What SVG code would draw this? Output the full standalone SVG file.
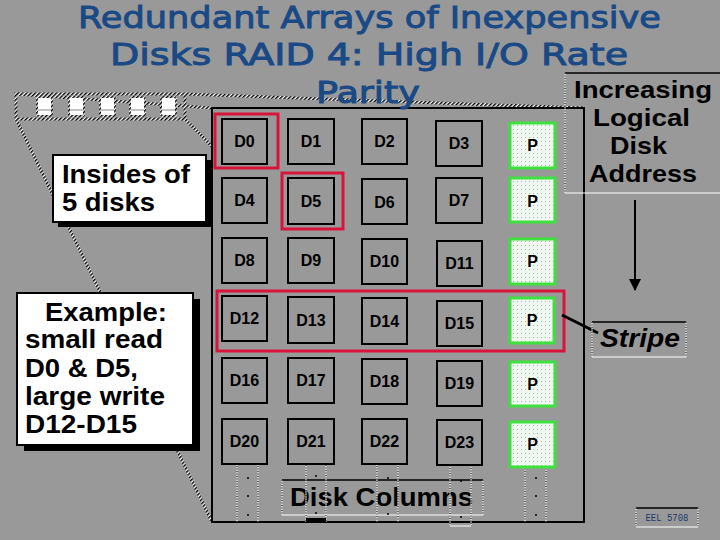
<svg xmlns="http://www.w3.org/2000/svg" width="720" height="540" viewBox="0 0 720 540">
<style>
.cell{fill:#999;stroke:#000;stroke-width:2}
.par{fill:url(#dots);stroke:#3ee03e;stroke-width:3}
.red{fill:none;stroke:#d8143c;stroke-width:3}
.lbl{font-family:"Liberation Sans",Arial,sans-serif;font-weight:bold;font-size:16px;text-anchor:middle;fill:#000}
.big{font-family:"Liberation Sans",Arial,sans-serif;font-weight:bold;font-size:26px;fill:#000}
.addr{font-size:24px}
.title{font-family:"DejaVu Sans","Liberation Sans",sans-serif;font-size:31px;fill:#1a4a86;stroke:#1a4a86;stroke-width:1;text-anchor:middle}
.hat{stroke:url(#hatch);stroke-width:3;fill:none}
.wl{stroke:#fff;stroke-width:1;fill:none}
.dl{stroke:#000;stroke-width:1;stroke-dasharray:1 1.5;fill:none}
.bl{stroke:#000;stroke-width:1.5;fill:none}
.dot{fill:#000}
</style>
<defs>
<pattern id="dots" width="4" height="4" patternUnits="userSpaceOnUse">
<rect width="4" height="4" fill="#f3f7f3"/><rect x="1" y="1" width="1" height="1" fill="#8c8"/>
</pattern>
<pattern id="hatch" width="3" height="3" patternUnits="userSpaceOnUse" patternTransform="rotate(45)">
<rect width="3" height="3" fill="#fff"/><rect width="1.5" height="3" fill="#000"/>
</pattern>
<marker id="arr" markerWidth="12" markerHeight="12" refX="11" refY="6" orient="auto" markerUnits="userSpaceOnUse" viewBox="0 0 12 12">
<path d="M0,0 L12,6 L0,12 Z" fill="#000"/>
</marker>
</defs>
<rect width="720" height="540" fill="#999"/>

<g id="connectors">
<line class="hat" x1="16" y1="94" x2="212" y2="108"/>
<line class="hat" x1="185" y1="94" x2="584" y2="108"/>
<line class="hat" x1="16" y1="119" x2="212" y2="522"/>
<line class="hat" x1="185" y1="119" x2="584" y2="522"/>
</g>

<g id="small-disks">
<rect class="hat" x="16" y="94" width="169" height="25"/>
<g fill="#fff" stroke="url(#hatch)" stroke-width="2">
<rect x="37" y="97" width="15" height="19" rx="2"/>
<rect x="69" y="97" width="15" height="19" rx="2"/>
<rect x="100" y="97" width="15" height="19" rx="2"/>
<rect x="130" y="97" width="15" height="19" rx="2"/>
<rect x="161" y="97" width="15" height="19" rx="2"/>
</g>
<g stroke="#888" stroke-width="1">
<line x1="38" y1="110" x2="51" y2="110"/><line x1="70" y1="110" x2="83" y2="110"/><line x1="101" y1="110" x2="114" y2="110"/><line x1="131" y1="110" x2="144" y2="110"/><line x1="162" y1="110" x2="175" y2="110"/>
</g>
</g>

<g id="frame">
<rect x="212" y="108" width="372" height="414" fill="#999" stroke="#000" stroke-width="2"/>
</g>

<g id="disk-columns-label">
<line class="bl" x1="282" y1="480" x2="483" y2="480"/>
<line class="wl" x1="282" y1="480" x2="282" y2="515"/><line class="dl" x1="282" y1="480" x2="282" y2="515"/>
<line class="wl" x1="483" y1="480" x2="483" y2="515"/><line class="dl" x1="483" y1="480" x2="483" y2="515"/>
<line class="wl" x1="282" y1="515" x2="483" y2="515" stroke-width="1.5"/>
<text class="big" x="290" y="506" textLength="183" lengthAdjust="spacingAndGlyphs">Disk Columns</text>
</g>

<g id="column-ext">
<g>
<line class="wl" x1="237" y1="461" x2="237" y2="522"/><line class="dl" x1="237" y1="461" x2="237" y2="522"/>
<line class="wl" x1="258" y1="461" x2="258" y2="522"/><line class="dl" x1="258" y1="461" x2="258" y2="522"/>
<line class="bl" x1="237" y1="461" x2="258" y2="461"/>
<circle class="dot" cx="248" cy="478" r="1"/><circle class="dot" cx="248" cy="496" r="1"/><circle class="dot" cx="248" cy="515" r="1"/>
</g>
<g>
<line class="wl" x1="306" y1="460" x2="306" y2="522"/><line class="dl" x1="306" y1="460" x2="306" y2="522"/>
<line class="wl" x1="326" y1="460" x2="326" y2="522"/><line class="dl" x1="326" y1="460" x2="326" y2="522"/>
<line class="bl" x1="306" y1="460" x2="326" y2="460"/>
<rect x="306" y="518" width="20" height="4" fill="#000"/>
<circle class="dot" cx="316" cy="476" r="1"/><circle class="dot" cx="316" cy="513" r="1"/>
</g>
<g>
<line class="wl" x1="377" y1="461" x2="377" y2="522"/><line class="dl" x1="377" y1="461" x2="377" y2="522"/>
<line class="wl" x1="398" y1="461" x2="398" y2="522"/><line class="dl" x1="398" y1="461" x2="398" y2="522"/>
<line class="bl" x1="377" y1="461" x2="398" y2="461"/>
<circle class="dot" cx="388" cy="478" r="1"/><circle class="dot" cx="388" cy="514" r="1"/>
</g>
<g>
<line class="wl" x1="450" y1="463" x2="450" y2="526"/><line class="dl" x1="450" y1="463" x2="450" y2="526"/>
<line class="wl" x1="471" y1="463" x2="471" y2="526"/><line class="dl" x1="471" y1="463" x2="471" y2="526"/>
<line class="wl" x1="450" y1="463" x2="471" y2="463" stroke-width="1.5"/>
<line class="wl" x1="450" y1="526" x2="471" y2="526" stroke-width="1.5"/>
<circle class="dot" cx="461" cy="481" r="1"/><circle class="dot" cx="461" cy="517" r="1"/>
</g>
<g>
<line class="wl" x1="525" y1="461" x2="525" y2="522"/><line class="dl" x1="525" y1="461" x2="525" y2="522"/>
<line class="wl" x1="546" y1="461" x2="546" y2="522"/><line class="dl" x1="546" y1="461" x2="546" y2="522"/>
<line class="bl" x1="525" y1="461" x2="546" y2="461"/>
<circle class="dot" cx="536" cy="478" r="1"/><circle class="dot" cx="536" cy="496" r="1"/><circle class="dot" cx="536" cy="515" r="1"/>
</g>
</g>

<g id="row1">
<g id="D0"><rect class="cell" x="222" y="119" width="45" height="45"/><text class="lbl" x="244.5" y="147">D0</text></g>
<g id="D1"><rect class="cell" x="288" y="119" width="46" height="45"/><text class="lbl" x="311" y="147">D1</text></g>
<g id="D2"><rect class="cell" x="362" y="119" width="45" height="45"/><text class="lbl" x="384.5" y="147">D2</text></g>
<g id="D3"><rect class="cell" x="436" y="121" width="46" height="45"/><text class="lbl" x="459" y="149">D3</text></g>
<g id="P0"><rect class="par" x="510" y="123" width="45" height="45"/><text class="lbl" x="532.5" y="151">P</text></g>
</g>
<g id="row2">
<g id="D4"><rect class="cell" x="222" y="178" width="45" height="45"/><text class="lbl" x="244.5" y="206">D4</text></g>
<g id="D5"><rect class="cell" x="288" y="178" width="46" height="46"/><text class="lbl" x="311" y="207">D5</text></g>
<g id="D6"><rect class="cell" x="362" y="179" width="45" height="45"/><text class="lbl" x="384.5" y="208">D6</text></g>
<g id="D7"><rect class="cell" x="436" y="178" width="46" height="45"/><text class="lbl" x="459" y="206">D7</text></g>
<g id="P1"><rect class="par" x="510" y="178" width="45" height="44"/><text class="lbl" x="532.5" y="207">P</text></g>
</g>
<g id="row3">
<g id="D8"><rect class="cell" x="222" y="238" width="45" height="45"/><text class="lbl" x="244.5" y="266">D8</text></g>
<g id="D9"><rect class="cell" x="288" y="238" width="46" height="45"/><text class="lbl" x="311" y="266">D9</text></g>
<g id="D10"><rect class="cell" x="362" y="239" width="45" height="45"/><text class="lbl" x="384.5" y="267">D10</text></g>
<g id="D11"><rect class="cell" x="437" y="241" width="45" height="45"/><text class="lbl" x="459.5" y="269">D11</text></g>
<g id="P2"><rect class="par" x="510" y="239" width="45" height="45"/><text class="lbl" x="532.5" y="267">P</text></g>
</g>
<g id="row4">
<g id="D12"><rect class="cell" x="222" y="296" width="45" height="45"/><text class="lbl" x="244.5" y="324">D12</text></g>
<g id="D13"><rect class="cell" x="288" y="297" width="46" height="46"/><text class="lbl" x="311" y="326">D13</text></g>
<g id="D14"><rect class="cell" x="362" y="298" width="45" height="46"/><text class="lbl" x="384.5" y="327">D14</text></g>
<g id="D15"><rect class="cell" x="437" y="301" width="45" height="45"/><text class="lbl" x="459.5" y="329">D15</text></g>
<g id="P3"><rect class="par" x="510" y="298" width="44" height="45"/><text class="lbl" x="532" y="326">P</text></g>
</g>
<g id="row5">
<g id="D16"><rect class="cell" x="222" y="358" width="45" height="45"/><text class="lbl" x="244.5" y="386">D16</text></g>
<g id="D17"><rect class="cell" x="288" y="358" width="46" height="45"/><text class="lbl" x="311" y="386">D17</text></g>
<g id="D18"><rect class="cell" x="362" y="359" width="45" height="45"/><text class="lbl" x="384.5" y="387">D18</text></g>
<g id="D19"><rect class="cell" x="437" y="361" width="45" height="45"/><text class="lbl" x="459.5" y="389">D19</text></g>
<g id="P4"><rect class="par" x="510" y="362" width="45" height="44"/><text class="lbl" x="532.5" y="390">P</text></g>
</g>
<g id="row6">
<g id="D20"><rect class="cell" x="222" y="419" width="45" height="45"/><text class="lbl" x="244.5" y="447">D20</text></g>
<g id="D21"><rect class="cell" x="288" y="419" width="46" height="45"/><text class="lbl" x="311" y="447">D21</text></g>
<g id="D22"><rect class="cell" x="362" y="419" width="45" height="45"/><text class="lbl" x="384.5" y="447">D22</text></g>
<g id="D23"><rect class="cell" x="437" y="420" width="45" height="45"/><text class="lbl" x="459.5" y="448">D23</text></g>
<g id="P5"><rect class="par" x="510" y="422" width="45" height="45"/><text class="lbl" x="532.5" y="450">P</text></g>
</g>

<g id="highlights">
<rect class="red" x="215" y="114" width="63" height="54"/>
<rect class="red" x="282" y="173" width="61" height="56"/>
<rect id="stripe-box" class="red" x="217" y="291" width="347" height="60"/>
</g>

<g id="insides-box">
<rect x="58" y="160" width="153" height="67" fill="#000"/>
<rect x="53" y="155" width="153" height="67" fill="#fff" stroke="#000" stroke-width="2"/>
<text class="big" x="62" y="183" textLength="128" lengthAdjust="spacingAndGlyphs">Insides of</text>
<text class="big" x="62" y="211" textLength="93" lengthAdjust="spacingAndGlyphs">5 disks</text>
</g>

<g id="example-box">
<rect x="24" y="299" width="176" height="152" fill="#000"/>
<rect x="17" y="293" width="176" height="152" fill="#fff" stroke="#000" stroke-width="2"/>
<text class="big" x="45" y="321" textLength="122" lengthAdjust="spacingAndGlyphs">Example:</text>
<text class="big" x="25" y="348" textLength="138" lengthAdjust="spacingAndGlyphs">small read</text>
<text class="big" x="25" y="377" textLength="113" lengthAdjust="spacingAndGlyphs">D0 &amp; D5,</text>
<text class="big" x="25" y="405" textLength="140" lengthAdjust="spacingAndGlyphs">large write</text>
<text class="big" x="25" y="433" textLength="112" lengthAdjust="spacingAndGlyphs">D12-D15</text>
</g>

<g id="address-label">
<line class="bl" x1="565" y1="73" x2="720" y2="73"/>
<line class="wl" x1="565" y1="73" x2="565" y2="193"/><line class="dl" x1="565" y1="73" x2="565" y2="193"/>
<line class="wl" x1="565" y1="193" x2="720" y2="193" stroke-width="1.5"/>
<text class="big addr" x="643" y="98" text-anchor="middle" textLength="138" lengthAdjust="spacingAndGlyphs">Increasing</text>
<text class="big addr" x="641.5" y="126" text-anchor="middle" textLength="97" lengthAdjust="spacingAndGlyphs">Logical</text>
<text class="big addr" x="638.5" y="154" text-anchor="middle" textLength="57" lengthAdjust="spacingAndGlyphs">Disk</text>
<text class="big addr" x="643" y="182" text-anchor="middle" textLength="108" lengthAdjust="spacingAndGlyphs">Address</text>
</g>

<g id="connectors2">
<line x1="635" y1="200" x2="635" y2="290" stroke="#000" stroke-width="2" marker-end="url(#arr)"/>
<line x1="562" y1="315" x2="598" y2="333" stroke="#000" stroke-width="3"/>
</g>

<g id="stripe-label">
<line class="bl" x1="592" y1="322" x2="686" y2="322"/>
<line class="wl" x1="592" y1="322" x2="592" y2="357"/><line class="dl" x1="592" y1="322" x2="592" y2="357"/>
<line class="wl" x1="686" y1="322" x2="686" y2="357"/><line class="dl" x1="686" y1="322" x2="686" y2="357"/>
<line class="wl" x1="592" y1="357" x2="686" y2="357" stroke-width="1.5"/>
<text class="big" x="600" y="347" font-style="italic" textLength="80" lengthAdjust="spacingAndGlyphs">Stripe</text>
</g>

<g id="course-label">
<line class="bl" x1="636" y1="508" x2="698" y2="508"/>
<line class="wl" x1="636" y1="508" x2="636" y2="527"/><line class="dl" x1="636" y1="508" x2="636" y2="527"/>
<line class="wl" x1="698" y1="508" x2="698" y2="527"/><line class="dl" x1="698" y1="508" x2="698" y2="527"/>
<line class="wl" x1="636" y1="527" x2="698" y2="527" stroke-width="1.5"/>
<text x="667" y="521" font-family="Liberation Mono, monospace" font-size="10" fill="#1a3a6a" text-anchor="middle" textLength="43" lengthAdjust="spacingAndGlyphs">EEL 5708</text>
</g>

<g id="title">
<text class="title" x="369.5" y="28" textLength="583" lengthAdjust="spacingAndGlyphs">Redundant Arrays of Inexpensive</text>
<text class="title" x="369" y="65" textLength="518" lengthAdjust="spacingAndGlyphs">Disks RAID 4: High I/O Rate</text>
<text class="title" x="368" y="103" textLength="104" lengthAdjust="spacingAndGlyphs">Parity</text>
</g>
</svg>
